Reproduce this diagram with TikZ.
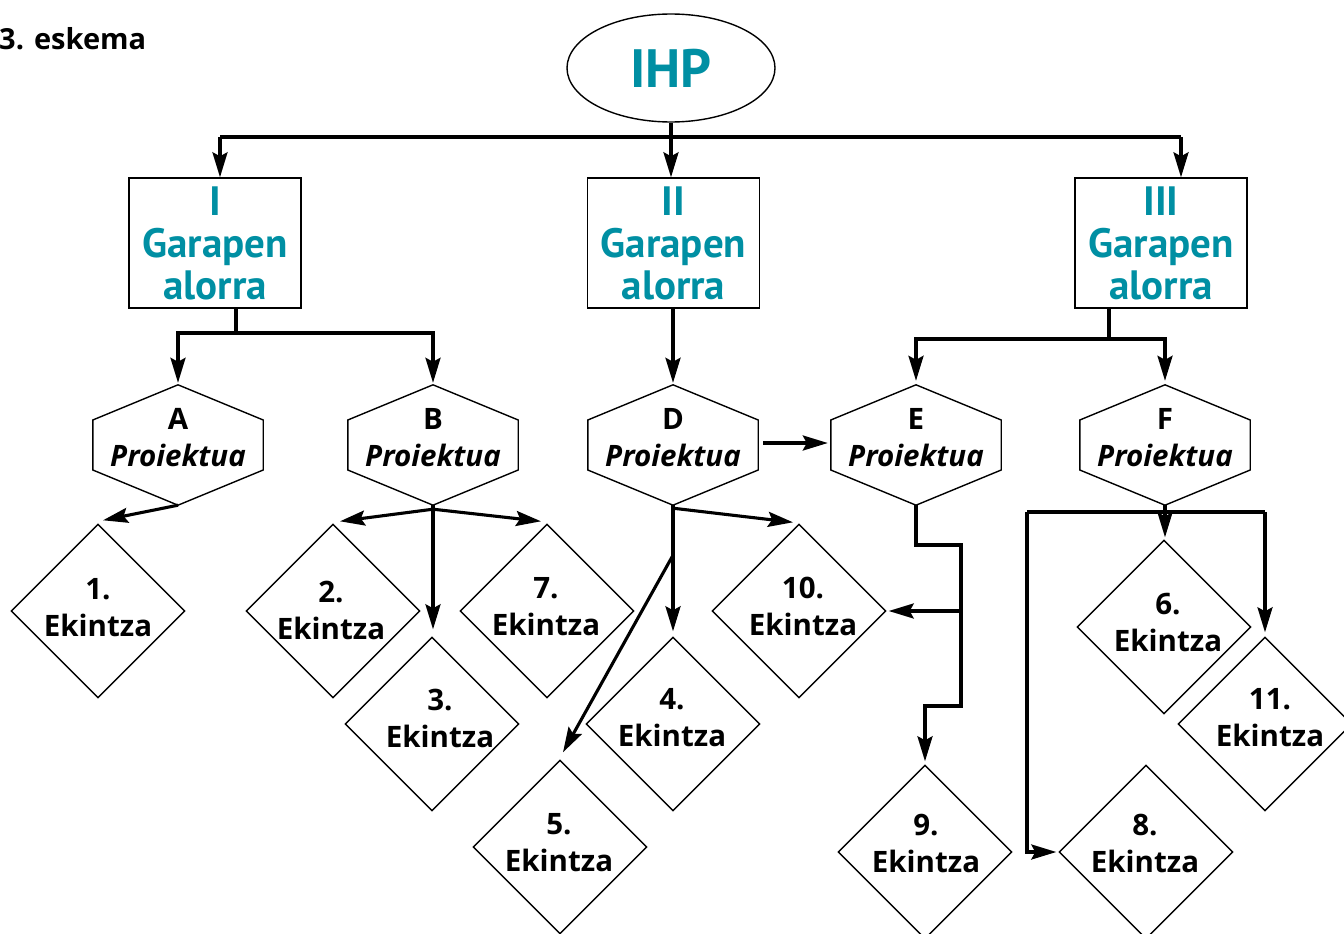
\documentclass[tikz,border=0pt]{standalone}
\usepackage{fontspec}
\setmainfont{PT Sans}
\newfontfamily\osfont{Open Sans}
\usetikzlibrary{arrows.meta,shapes.geometric,calc}
\definecolor{ihpteal}{RGB}{0,143,163}
\tikzset{
  conn/.style={line width=3.1pt},
  arr/.style={conn,-{Stealth[length=25pt,width=15pt,inset=4pt]}},
  shp/.style={draw,line width=1.4pt},
  boxnode/.style={shp,rectangle,minimum width=172pt,minimum height=130pt,inner sep=0pt,align=center,text=ihpteal,font=\bfseries\fontsize{41}{42}\selectfont},
  hexbox/.style={rectangle,minimum width=170pt,minimum height=120pt,inner sep=0pt},
  dianode/.style={shp,diamond,aspect=1,minimum width=174pt,minimum height=174pt,inner sep=0pt},
  txt/.style={align=center,inner sep=0pt,font=\osfont\bfseries\fontsize{29.5}{37}\selectfont}
}
\newcommand\mkhex[4]{%
  \node[hexbox] (#1) at (#2,#3) {};
  \draw[shp] (#1.north) -- ($(#1.east)+(0,-25)$) -- ($(#1.east)+(0,25)$) -- (#1.south)
    -- ($(#1.west)+(0,25)$) -- ($(#1.west)+(0,-25)$) -- cycle;
  \node[txt] (#1t) at ($(#1)+(0,-7)$) {#4\\\textit{Proiektua}};}
\newcommand\mkdia[6]{%
  \node[dianode] (#1) at (#2,#3) {};
  \node[txt] (#1t) at ($(#1)+(#5,#6)$) {#4.\\Ekintza};}
\begin{document}
\begin{tikzpicture}[x=1pt,y=-1pt]
\useasboundingbox (0,0) rectangle (1344,934);
\node[font=\osfont\bfseries\fontsize{29}{36}\selectfont,anchor=base west,inner sep=0pt] (title) at (-1,50) {3. eskema};
\node[shp,ellipse,minimum width=208pt,minimum height=108pt,inner sep=0pt,text=ihpteal,font=\bfseries\fontsize{54}{60}\selectfont] (ihp) at (671,68) {IHP};
\node[boxnode] (b1) at (215,243) {I\\Garapen\\alorra};
\node[boxnode] (b2) at (673.5,243) {II\\Garapen\\alorra};
\node[boxnode] (b3) at (1161,243) {III\\Garapen\\alorra};
\mkhex{hA}{178}{445}{A}
\mkhex{hB}{433}{445}{B}
\mkhex{hD}{673}{445}{D}
\mkhex{hE}{916}{445}{E}
\mkhex{hF}{1165}{445}{F}
\mkdia{d1}{98}{611}{1}{0}{-3}
\mkdia{d2}{333}{611}{2}{-2}{-1}
\mkdia{d3}{432}{724}{3}{8}{-6}
\mkdia{d7}{547}{611}{7}{-1}{-4}
\mkdia{d4}{673}{724}{4}{-1}{-6}
\mkdia{d5}{560}{847}{5}{-1}{-4}
\mkdia{d10}{799}{611}{10}{4}{-5}
\mkdia{d9}{925}{852}{9}{1}{-9}
\mkdia{d6}{1164}{627}{6}{4}{-5}
\mkdia{d11}{1265}{724}{11}{5}{-6}
\mkdia{d8}{1146}{852}{8}{-1}{-9}
% top bus
\coordinate (busL) at (220,137);
\coordinate (busR) at (1181,137);
\draw[conn] (busL) -- (busR);
\draw[arr] (busL) -- (busL |- b1.north);
\draw[arr] (ihp.south) -- (ihp.south |- b2.north);
\draw[arr] (busR) -- (busR |- b3.north);
% box I
\coordinate (j1) at (236,333);
\draw[conn] (j1 |- b1.south) -- (j1);
\draw[arr] (j1) -| ([yshift=2pt]hA.north);
\draw[arr] (j1) -| ([yshift=2pt]hB.north);
% box II
\draw[arr] (hD.north |- b2.south) -- ([yshift=2pt]hD.north);
% box III
\coordinate (j3) at (1109,339);
\draw[conn] (j3 |- b3.south) -- (j3);
\draw[arr] (j3) -| ([yshift=4pt]hE.north);
\draw[arr] (j3) -| ([yshift=4pt]hF.north);
% A
\draw[arr] (hA.south) -- ([shift={(5,-3)}]d1.north);
% B
\coordinate (bj) at ($(hB.south)+(0,4)$);
\draw[conn] (hB.south) -- (bj);
\draw[arr] (bj) -- ([shift={(7,-2)}]d2.north);
\draw[arr] (bj) -- ($(bj |- d3.north)+(0,-7)$);
\draw[arr] (bj) -- ([shift={(-6,-2)}]d7.north);
% D
\coordinate (dj) at ($(hD.south)+(0,3)$);
\coordinate (dk) at ($(hD.south)+(0,50)$);
\draw[conn] (hD.south) -- (dj);
\draw[arr] (dj) -- ($(dj |- d4.north)+(0,-5)$);
\draw[arr] (dj) -- ([shift={(-6,-1)}]d10.north);
\draw[arr] (dk) -- ([shift={(3,-7)}]d5.north);
\draw[arr] (hD.east) ++(5,-2) coordinate (de) -- ([xshift=-3pt]de -| hE.west);
% E
\coordinate (e1) at (961,545);
\coordinate (e2) at (961,706);
\coordinate (e3) at (961,611);
\draw[arr] (hE.south) |- (e1) -- (e2) -| ([yshift=3pt]d9.north);
\draw[arr] (e3) -- ([xshift=2pt]d10.east);
% F
\coordinate (fj) at ($(hF.south)+(0,7)$);
\coordinate (fl) at (1027,512);
\coordinate (fr) at (1265,512);
\draw[conn] (hF.south) -- (fj);
\draw[conn] (fl) -- (fr);
\draw[arr] (fj) -- ([yshift=2pt]fj |- d6.north);
\draw[arr] (fr) -- ([yshift=4pt]fr |- d11.north);
\draw[arr] (fl) |- ([xshift=-2pt]d8.west);
\end{tikzpicture}
\end{document}
